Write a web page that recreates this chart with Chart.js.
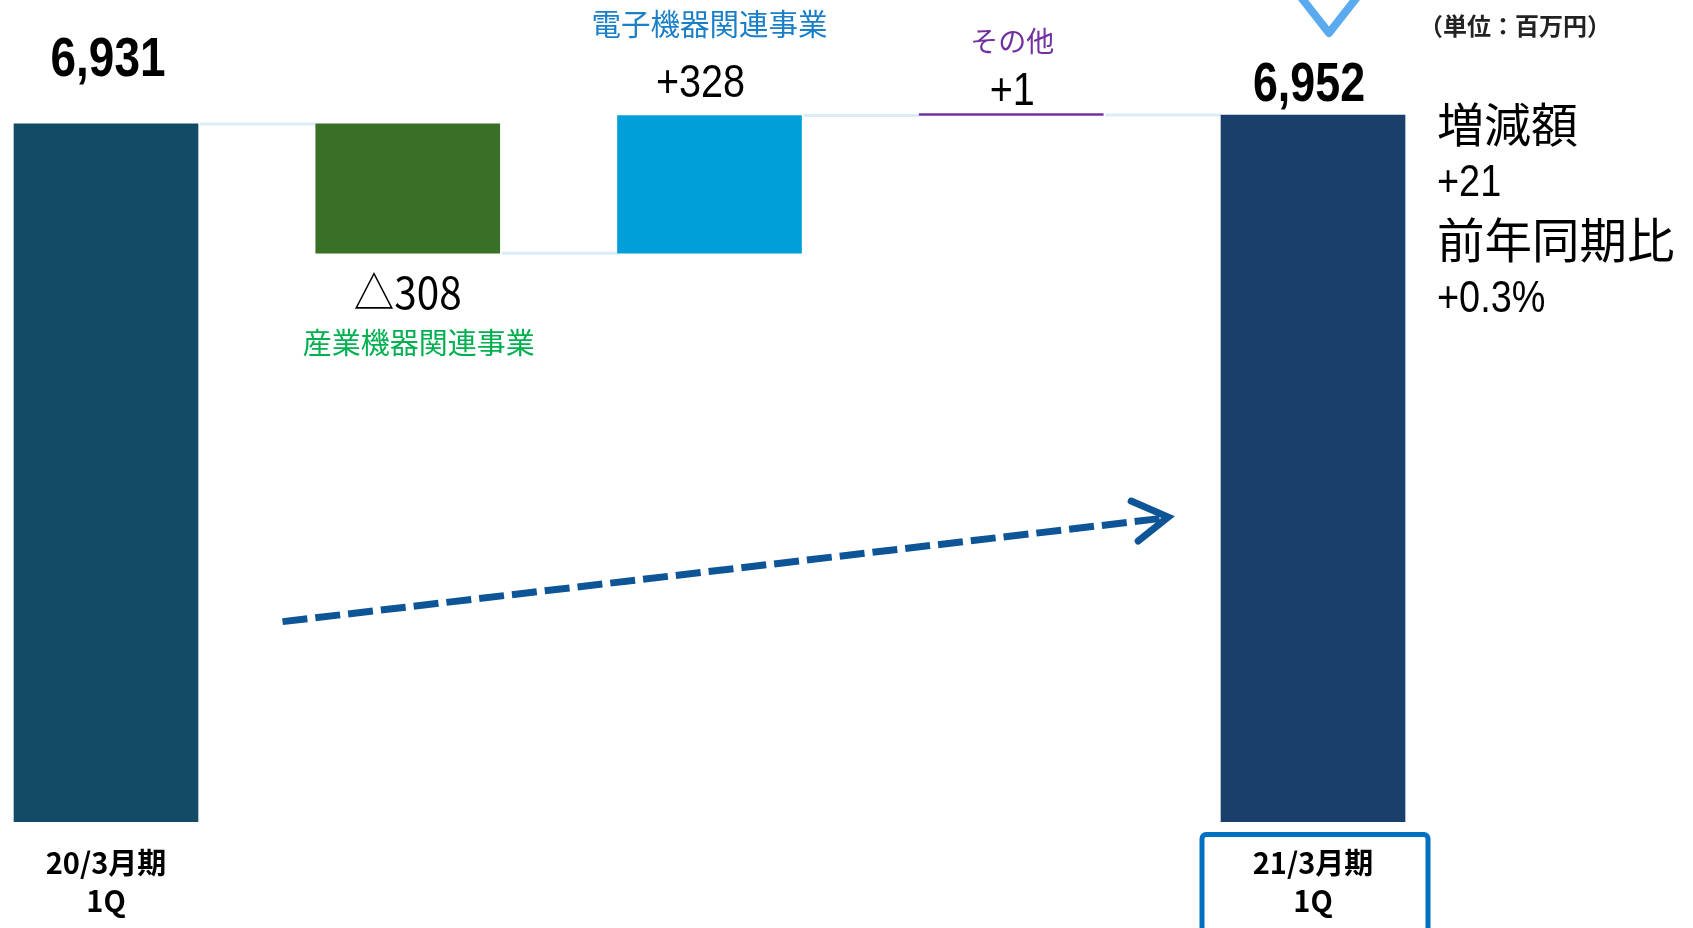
<!DOCTYPE html>
<html lang="ja">
<head>
<meta charset="utf-8">
<title>売上高 増減要因</title>
<script src="https://cdn.jsdelivr.net/npm/chart.js@4/dist/chart.umd.min.js"></script>
<style>
  html, body { margin: 0; padding: 0; background: #fff; overflow: hidden; }
  canvas { display: block; }
</style>
</head>
<body>
<canvas id="grafico" width="1693" height="928"></canvas>
<script>
// dados do gráfico (百万円)
const categorias = [['20/3月期', '1Q'], '', '', '', ['21/3月期', '1Q']];
const segmentos  = ['', '産業機器関連事業', '電子機器関連事業', 'その他', ''];
const valores    = [6931, -308, 328, 1, 6952];   // total, variações, total
const rotulos    = ['6,931', '△308', '+328', '+1', '6,952'];
const notaDir    = ['増減額', '+21', '前年同期比', '+0.3%'];
const unidade    = '（単位：百万円）';

const coresBarras = ['#134a66', '#3a6f27', '#009fd9', '#7030a0', '#1a3f6a'];
const coresSeg    = ['', '#00b050', '#1a7fc9', '#7030a0', ''];

// monta as barras flutuantes do waterfall
let acumulado = 0;
const barras = valores.map((v, i) => {
  if (i === 0 || i === valores.length - 1) { acumulado = v; return [0, v]; }
  const ini = acumulado;
  acumulado += v;
  return [Math.min(ini, acumulado), Math.max(ini, acumulado)];
});
// nível de cada conector (topo depois de cada passo)
const niveis = [];
acumulado = 0;
valores.forEach((v, i) => {
  acumulado = (i === 0 || i === valores.length - 1) ? v : acumulado + v;
  niveis.push(acumulado);
});

const JP = '"Noto Sans CJK JP", "Noto Sans", sans-serif';
const NUM = '"Liberation Sans", Arial, sans-serif';

function texto(ctx, t, x, y, font, cor, align, sx) {
  ctx.save();
  ctx.font = font;
  ctx.fillStyle = cor;
  ctx.textAlign = align || 'center';
  ctx.textBaseline = 'middle';
  ctx.translate(x, y);
  ctx.scale(sx || 1, 1);
  ctx.fillText(t, 0, 0);
  ctx.restore();
}

const extras = {
  id: 'extras',
  beforeDatasetsDraw(chart) {
    const ctx = chart.ctx;
    const y = chart.scales.y;
    const els = chart.getDatasetMeta(0).data;
    // conectores
    ctx.save();
    ctx.strokeStyle = '#d9edf7';
    ctx.lineWidth = 3;
    for (let i = 0; i < els.length - 1; i++) {
      const a = els[i], b = els[i + 1];
      const py = y.getPixelForValue(niveis[i]);
      ctx.beginPath();
      ctx.moveTo(a.x + a.width / 2 + 2, py);
      ctx.lineTo(b.x - b.width / 2, py);
      ctx.stroke();
    }
    ctx.restore();
  },
  afterDatasetsDraw(chart) {
    const ctx = chart.ctx;
    const x = chart.scales.x, y = chart.scales.y;
    const els = chart.getDatasetMeta(0).data;

    // rótulos de valor
    texto(ctx, rotulos[0], els[0].x + 2, y.getPixelForValue(barras[0][1]) - 63, 'bold 56px ' + NUM, '#000', 'center', 0.82);
    texto(ctx, rotulos[1], els[1].x, y.getPixelForValue(barras[1][0]) + 39, '44px ' + JP, '#000', 'center', 0.92);
    texto(ctx, rotulos[2], els[2].x - 9, y.getPixelForValue(barras[2][1]) - 31, '46px ' + NUM, '#000', 'center', 0.86);
    texto(ctx, rotulos[3], els[3].x + 1, y.getPixelForValue(barras[3][1]) - 23, '46px ' + NUM, '#000', 'center', 0.86);
    texto(ctx, rotulos[4], els[4].x - 4, y.getPixelForValue(barras[4][1]) - 30, 'bold 56px ' + NUM, '#000', 'center', 0.8);

    // nomes dos segmentos
    texto(ctx, segmentos[1], els[1].x + 11, y.getPixelForValue(barras[1][0]) + 90, '29px ' + JP, coresSeg[1]);
    texto(ctx, segmentos[2], els[2].x, 24, '29.5px ' + JP, coresSeg[2]);
    texto(ctx, segmentos[3], els[3].x + 1, 41, '28px ' + JP, coresSeg[3]);

    // nota à direita
    const xn = 1437;
    texto(ctx, unidade, 1515, 26, 'bold 24px ' + JP, '#222');
    texto(ctx, notaDir[0], xn, 124, '47px ' + JP, '#000', 'left');
    texto(ctx, notaDir[1], xn, 184, '44px ' + NUM, '#000', 'left', 0.86);
    texto(ctx, notaDir[2], xn, 240, '47.5px ' + JP, '#000', 'left');
    texto(ctx, notaDir[3], xn, 300, '44px ' + NUM, '#000', 'left', 0.86);

    // seta tracejada
    const x0 = x.getPixelForValue(0.585), y0 = y.getPixelForValue(5746);
    const x1 = x.getPixelForValue(3.52),  y1 = y.getPixelForValue(5995);
    ctx.save();
    ctx.strokeStyle = '#0d5597';
    ctx.lineWidth = 7;
    ctx.setLineDash([25, 8]);
    ctx.beginPath();
    ctx.moveTo(x0, y0);
    ctx.lineTo(x1 - 8, y1 + 1.5);
    ctx.stroke();
    ctx.setLineDash([]);
    ctx.lineCap = 'round';
    ctx.lineJoin = 'miter';
    ctx.beginPath();
    ctx.moveTo(x1 - 37, y1 - 16);
    ctx.lineTo(x1, y1);
    ctx.lineTo(x1 - 30, y1 + 24);
    ctx.stroke();
    ctx.restore();

    // chevron no topo
    const xc = els[4].x + 16;
    ctx.save();
    ctx.strokeStyle = '#5aaaf0';
    ctx.lineWidth = 8;
    ctx.lineJoin = 'round';
    ctx.beginPath();
    ctx.moveTo(xc - 29, -4);
    ctx.lineTo(xc, 33);
    ctx.lineTo(xc + 29, -4);
    ctx.stroke();
    ctx.restore();

    // caixa do rótulo 21/3月期
    const bx = els[4].x + 2;
    ctx.save();
    ctx.strokeStyle = '#0070c0';
    ctx.lineWidth = 5;
    ctx.beginPath();
    ctx.roundRect(bx - 113, 834.5, 226, 120, 4);
    ctx.stroke();
    ctx.restore();
  }
};

new Chart(document.getElementById('grafico'), {
  type: 'bar',
  data: {
    labels: categorias,
    datasets: [{
      data: barras,
      backgroundColor: coresBarras,
      barThickness: 184,
      minBarLength: 2,
      clip: { left: false, right: false, top: false, bottom: 0 }
    }]
  },
  options: {
    responsive: false,
    animation: false,
    devicePixelRatio: 1,
    layout: { padding: { left: 106, right: 380, top: 0, bottom: 0 } },
    plugins: { legend: { display: false }, tooltip: { enabled: false } },
    scales: {
      x: {
        offset: false,
        grid: { display: false, drawTicks: false },
        border: { display: false },
        ticks: {
          color: '#000',
          font: { family: JP, size: 29, weight: 'bold', lineHeight: 1.32 },
          padding: 22,
          maxRotation: 0,
          autoSkip: false
        },
        afterFit(scale) { scale.height = 106; }
      },
      y: {
        display: false,
        min: 5269,
        max: 7226
      }
    }
  },
  plugins: [extras]
});
</script>
</body>
</html>
